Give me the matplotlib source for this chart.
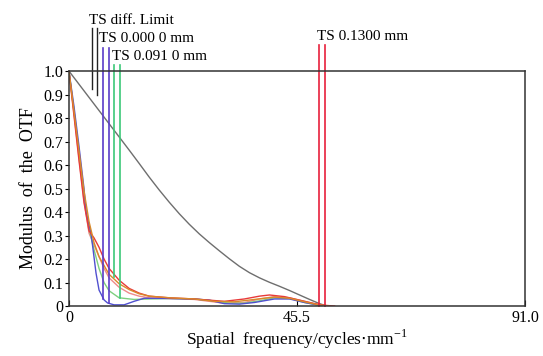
import matplotlib.pyplot as plt
import numpy as np

plt.rcParams['font.family'] = ['Liberation Serif', 'DejaVu Serif']

# Data
x_ticks = [0, 45.5, 91.0]
x_ticklabels = ["0", "45.5", "91.0"]
y_ticks = [0, 0.1, 0.2, 0.3, 0.4, 0.5, 0.6, 0.7, 0.8, 0.9, 1.0]
y_ticklabels = ["0", "0.1", "0.2", "0.3", "0.4", "0.5", "0.6", "0.7", "0.8", "0.9", "1.0"]

diff_x = [0, 2, 4, 6, 8, 10, 12, 14, 16, 18, 20, 22, 24, 26, 28, 30, 32, 34, 36, 38,
          40, 42, 44, 46, 48, 50, 51.5]
diff_y = [1.0, 0.944, 0.888, 0.832, 0.776, 0.72, 0.664, 0.607, 0.549, 0.494, 0.442, 0.393,
          0.348, 0.307, 0.27, 0.235, 0.201, 0.169, 0.142, 0.12, 0.101, 0.084, 0.066, 0.047,
          0.028, 0.01, 0]

orange_x = [0, 1, 2, 3, 4, 5, 6, 8, 10, 12, 14, 16, 20, 25, 29, 33, 37, 41, 44, 47, 50, 52]
orange_y = [1, 0.83, 0.66, 0.49, 0.36, 0.27, 0.21, 0.135, 0.095, 0.07, 0.052, 0.042, 0.035, 0.03,
            0.02, 0.018, 0.028, 0.038, 0.033, 0.018, 0.004, 0]

red_x = [0, 1, 2, 3, 4, 5, 6, 7, 8, 10, 12, 14, 16, 20, 25, 28, 31, 35, 38, 40, 43, 46, 49, 51, 53]
red_y = [1, 0.81, 0.62, 0.44, 0.32, 0.29, 0.25, 0.2, 0.16, 0.11, 0.075, 0.055, 0.042, 0.035, 0.03,
         0.025, 0.02, 0.03, 0.042, 0.047, 0.04, 0.025, 0.01, 0.003, 0]

pink_x = [0, 1, 2, 3, 4, 5, 6, 7, 8, 10, 12, 14, 16, 20, 25, 28, 31, 35, 38, 41, 44, 47, 50, 52]
pink_y = [1, 0.82, 0.63, 0.45, 0.31, 0.26, 0.21, 0.16, 0.12, 0.08, 0.055, 0.042, 0.035, 0.032, 0.028,
          0.02, 0.012, 0.015, 0.03, 0.04, 0.035, 0.02, 0.005, 0]

green_x = [0, 1, 2, 3, 4, 5, 6, 7, 8, 10, 13, 16, 20, 25, 29, 32, 35, 38, 41, 44, 47, 50, 52]
green_y = [1, 0.83, 0.65, 0.47, 0.33, 0.24, 0.16, 0.1, 0.065, 0.035, 0.028, 0.03, 0.032, 0.03, 0.022,
           0.012, 0.012, 0.022, 0.035, 0.032, 0.015, 0.003, 0]

blue_x = [0, 1, 2, 3, 3.4, 4.4, 5.4, 6, 7, 7.7, 9, 11, 13, 15, 20, 25, 28, 31, 34, 37, 41, 44, 47, 50, 52]
blue_y = [1, 0.85, 0.68, 0.5, 0.4, 0.31, 0.14, 0.068, 0.026, 0.013, 0.005, 0.005, 0.02, 0.033, 0.032,
          0.03, 0.025, 0.01, 0.008, 0.015, 0.03, 0.03, 0.015, 0.003, 0]

# legend marker lines: x position, top, bottom
black_lines_x = [4.53, 5.65]
black_lines_top = 1.183
black_lines_bottom = [0.925, 0.9]
purple_lines_x = [6.75, 7.95]
purple_lines_top = 1.10
purple_lines_bottom = [0.03, 0.012]
green_lines_x = [9.05, 10.2]
green_lines_top = 1.026
green_lines_bottom = [0.125, 0.035]
red_lines_x = [49.8, 51.1]
red_lines_top = 1.11
red_lines_bottom = [0.0, 0.0]

labels = ["TS diff. Limit", "TS 0.000 0 mm", "TS 0.091 0 mm", "TS 0.1300 mm"]
label_x = [4.0, 6.0, 8.6, 49.5]
label_y = [1.217, 1.14, 1.06, 1.145]

fig = plt.figure(figsize=(5.43, 3.56), dpi=100)
ax = fig.add_axes([0.127, 0.1404, 0.840, 0.660])

ax.plot(diff_x, diff_y, color='#6e6e6e', lw=1.0)
ax.plot(pink_x, pink_y, color='#f08a8a', lw=1.0)
ax.plot(green_x, green_y, color='#7ed07e', lw=1.0)
ax.plot(blue_x, blue_y, color='#5050d0', lw=1.0)
ax.plot(red_x, red_y, color='#e83a3a', lw=1.0)
ax.plot(orange_x, orange_y, color='#d9892a', lw=1.0)

for i, xv in enumerate(black_lines_x):
    ax.plot([xv, xv], [black_lines_top, black_lines_bottom[i]], color='#222222', lw=1.0, clip_on=False)
for i, xv in enumerate(purple_lines_x):
    ax.plot([xv, xv], [purple_lines_top, purple_lines_bottom[i]], color='#5a3cc8', lw=1.2, clip_on=False)
for i, xv in enumerate(green_lines_x):
    ax.plot([xv, xv], [green_lines_top, green_lines_bottom[i]], color='#3cc878', lw=1.2, clip_on=False)
for i, xv in enumerate(red_lines_x):
    ax.plot([xv, xv], [red_lines_top, red_lines_bottom[i]], color='#e8203c', lw=1.2, clip_on=False)

for t, xv, yv in zip(labels, label_x, label_y):
    ax.text(xv, yv, t, ha='left', va='center', fontsize=11, clip_on=False)

ax.set_xlim(0, 91)
ax.set_ylim(0, 1.0)
ax.set_xticks(x_ticks)
ax.set_xticklabels(x_ticklabels)
ax.set_yticks(y_ticks)
ax.set_yticklabels(y_ticklabels)
ax.tick_params(axis='x', direction='in', length=4, labelsize=11.5, pad=3)
ax.tick_params(axis='y', direction='out', length=3, labelsize=11.5, pad=1)
for s in ax.spines.values():
    s.set_color('#333333')
    s.set_linewidth(1.1)

ax.set_ylabel("Modulus  of  the  OTF", fontsize=13, labelpad=5)
ax.set_xlabel("Spatial  frequency/cycles$\\cdot$mm$^{\\mathregular{-1}}$", fontsize=12.5, labelpad=1)

fig.savefig("out.png", dpi=100)
